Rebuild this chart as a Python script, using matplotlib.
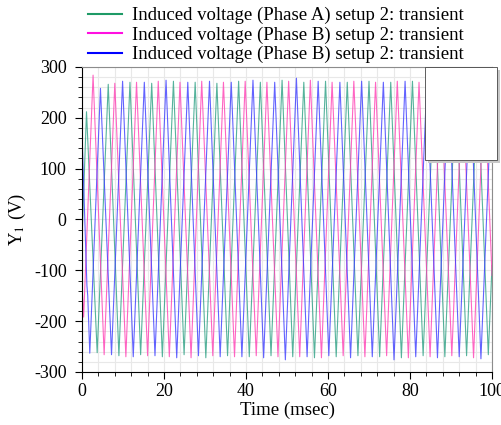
import matplotlib
matplotlib.use("Agg")
import matplotlib.pyplot as plt
from matplotlib.patches import Rectangle
from matplotlib.ticker import MultipleLocator

# peak / trough knots of each phase waveform: time (ms), voltage (V)
t_a = [0.0, 1.1, 3.7, 6.4, 9.0, 11.7, 14.3, 17.0, 19.6, 22.3, 24.9, 27.6, 30.2, 32.9, 35.5,
       38.2, 40.8, 43.5, 46.1, 48.8, 51.4, 54.1, 56.7, 59.4, 62.0, 64.7, 67.3, 70.0, 72.6,
       75.3, 77.9, 80.6, 83.2, 85.9, 88.5, 91.2, 93.8, 96.5, 99.1, 100.0]
v_a = [-40, 212, -262, 266, -268, 270, -266, 268, -270, 272, -266, 270, -272, 268, -268,
       272, -270, 270, -268, 274, -270, 270, -272, 272, -270, 270, -268, 272, -270,
       270, -272, 272, -268, 270, -270, 272, -268, 270, -266, -90]

t_b = [0.0, 0.4, 2.7, 5.4, 8.0, 10.7, 13.3, 16.0, 18.6, 21.3, 23.9, 26.6, 29.2, 31.9, 34.5,
       37.2, 39.8, 42.5, 45.1, 47.8, 50.4, 53.1, 55.7, 58.4, 61.0, 63.7, 66.3, 69.0, 71.6,
       74.3, 76.9, 79.6, 82.2, 84.9, 87.5, 90.2, 92.8, 95.5, 98.1, 100.0]
v_b = [-130, -192, 284, -266, 268, -270, 270, -268, 272, -270, 270, -272, 272, -268, 270,
       -270, 272, -268, 270, -270, 272, -270, 274, -272, 270, -268, 272, -270, 270,
       -268, 272, -272, 270, -270, 272, -268, 270, -272, 272, -110]

t_c = [0.0, 1.2, 1.4, 1.9, 4.5, 7.2, 9.9, 12.5, 15.2, 17.8, 20.5, 23.1, 25.8, 28.4, 31.1,
       33.7, 36.4, 39.0, 41.7, 44.3, 47.0, 49.6, 52.3, 54.9, 57.6, 60.2, 62.9, 65.5, 68.2,
       70.8, 73.5, 76.1, 78.8, 81.4, 84.1, 86.7, 89.4, 92.0, 94.7, 97.3, 100.0]
v_c = [170, -130, -150, -263, 258, -266, 272, -270, 270, -268, 274, -272, 270, -268, 272,
       -270, 270, -270, 274, -272, 270, -276, 278, -270, 272, -268, 270, -272, 272,
       -270, 270, -276, 272, -270, 270, -272, 272, -270, 270, -274, 268]

labels = ["Induced voltage (Phase A) setup 2: transient",
          "Induced voltage (Phase B) setup 2: transient",
          "Induced voltage (Phase B) setup 2: transient"]
colors = ["#2ca083", "#ff3fb4", "#3c3cff"]
legend_colors = ["#1e9a66", "#ff10e0", "#0000ff"]

plt.rcParams["font.family"] = ["Liberation Serif", "DejaVu Serif"]
plt.rcParams["mathtext.fontset"] = "stix"
plt.rcParams["axes.unicode_minus"] = False

fig = plt.figure(figsize=(5.01, 4.25), dpi=100)
ax = fig.add_axes([82 / 501, 1 - 372 / 425, 410 / 501, 305 / 425])

lines = []
for t, v, c, lab in zip([t_a, t_b, t_c], [v_a, v_b, v_c], colors, labels):
    ln, = ax.plot(t, v, color=c, lw=0.8, alpha=0.8, label=lab)
    lines.append(ln)

ax.set_xlim(0, 100)
ax.set_ylim(-300, 300)
ax.xaxis.set_major_locator(MultipleLocator(20))
ax.xaxis.set_minor_locator(MultipleLocator(4))
ax.yaxis.set_major_locator(MultipleLocator(100))
ax.yaxis.set_minor_locator(MultipleLocator(20))
ax.grid(which="both", color="#e8e8e8", lw=0.8)
ax.set_axisbelow(True)
ax.tick_params(which="both", direction="out", labelsize=13)
ax.tick_params(which="major", length=5, width=0.8)
ax.tick_params(which="minor", length=3, width=0.6)
ax.tick_params(axis="x", pad=3)
ax.tick_params(axis="y", pad=6)
for s in ("top", "right"):
    ax.spines[s].set_color("#8c8c8c")
ax.set_xlabel("Time (msec)", fontsize=13.5, labelpad=1)
ax.set_ylabel("Y$_1$ (V)", fontsize=13.5, labelpad=4)

leg = fig.legend(handles=lines, loc="upper left", bbox_to_anchor=(77 / 501, 1.01),
                 frameon=False, fontsize=13.5, handlelength=1.8, handletextpad=0.55,
                 labelspacing=0.12, borderaxespad=0.2)
for hd, c in zip(leg.legend_handles, legend_colors):
    hd.set_linewidth(1.5)
    hd.set_alpha(1.0)
    hd.set_color(c)

# empty inset box with drop shadow at the upper right
x0, y0, w, h = 425 / 501, 1 - 160 / 425, 72 / 501, 93 / 425
fig.patches.append(Rectangle((x0 + 3 / 501, y0 - 3 / 425), w, h, transform=fig.transFigure,
                             facecolor="#c8c8c8", edgecolor="none", zorder=5))
fig.patches.append(Rectangle((x0, y0), w, h, transform=fig.transFigure,
                             facecolor="white", edgecolor="#444444", lw=0.6, zorder=6))

fig.savefig("out.png", dpi=100)
